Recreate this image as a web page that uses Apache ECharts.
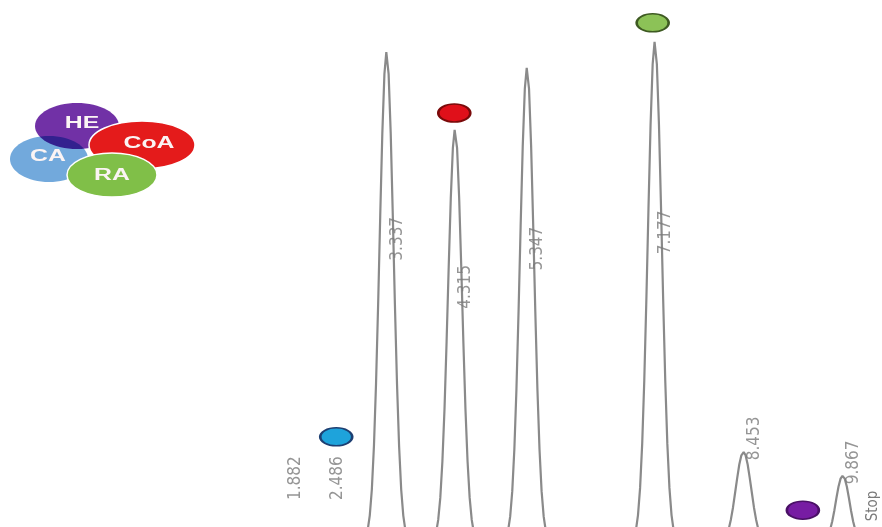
<!DOCTYPE html>
<html>
<head>
<meta charset="utf-8">
<script src="https://cdn.jsdelivr.net/npm/echarts@6/dist/echarts.min.js"></script>
<style>
  html, body { margin: 0; padding: 0; background: #ffffff; }
  #chart { width: 882px; height: 527px; }
</style>
</head>
<body>
<div id="chart"></div>
<script>
// Retention times (min) of the integrated peaks and their apex heights (mAU)
const peakTimes   = [1.882, 2.486, 3.337, 4.315, 5.347, 7.177, 8.453, 9.867];
const peakHeights = [10, 14, 904, 761, 875, 923, 168, 124];

// Detector trace: time (min) and signal (mAU)
const traceTime = [
  0.00, 1.70, 1.80, 1.882, 1.96, 2.06, 2.30, 2.40, 2.486, 2.57, 2.67, 2.90,
  3.04, 3.07, 3.10, 3.13, 3.16, 3.19, 3.22, 3.25, 3.28, 3.31, 3.337, 3.37, 3.40, 3.43, 3.46, 3.49, 3.52, 3.55, 3.58, 3.61, 3.64,
  3.83,
  4.02, 4.05, 4.08, 4.11, 4.14, 4.17, 4.20, 4.23, 4.26, 4.29, 4.315, 4.35, 4.38, 4.41, 4.44, 4.47, 4.50, 4.53, 4.56, 4.59, 4.62,
  4.84,
  5.05, 5.08, 5.11, 5.14, 5.17, 5.20, 5.23, 5.26, 5.29, 5.32, 5.347, 5.38, 5.41, 5.44, 5.47, 5.50, 5.53, 5.56, 5.59, 5.62, 5.65,
  6.20,
  6.88, 6.91, 6.94, 6.97, 7.00, 7.03, 7.06, 7.09, 7.12, 7.15, 7.177, 7.21, 7.24, 7.27, 7.30, 7.33, 7.36, 7.39, 7.42, 7.45, 7.48,
  7.80,
  8.12, 8.15, 8.18, 8.21, 8.24, 8.27, 8.30, 8.33, 8.36, 8.39, 8.42, 8.453, 8.48, 8.51, 8.54, 8.57, 8.60, 8.63, 8.66, 8.69, 8.72, 8.75, 8.78,
  9.20,
  9.57, 9.60, 9.63, 9.66, 9.69, 9.72, 9.75, 9.78, 9.81, 9.84, 9.867, 9.90, 9.93, 9.96, 9.99, 10.02, 10.05, 10.08, 10.11, 10.14, 10.17,
  10.40
];
const traceSignal = [
  0, 0, 4, 10, 4, 0, 0, 5, 14, 5, 0, 0,
  10, 24, 51, 99, 179, 294, 440, 603, 755, 864, 904, 864, 755, 603, 440, 294, 179, 99, 51, 24, 10,
  1,
  8, 20, 43, 84, 151, 247, 371, 508, 635, 728, 761, 728, 635, 508, 371, 247, 151, 84, 43, 20, 8,
  1,
  10, 23, 49, 96, 173, 284, 426, 584, 731, 837, 875, 837, 731, 584, 426, 284, 173, 96, 49, 23, 10,
  0,
  10, 24, 52, 102, 183, 300, 450, 616, 771, 882, 923, 882, 771, 616, 450, 300, 183, 102, 52, 24, 10,
  0,
  2, 4, 8, 16, 27, 44, 66, 93, 120, 145, 162, 168, 162, 145, 120, 93, 66, 44, 27, 16, 8, 4, 2,
  0,
  1, 3, 7, 14, 25, 40, 60, 83, 104, 119, 124, 119, 104, 83, 60, 40, 25, 14, 7, 3, 1,
  0
];

// Compound markers placed over the chromatogram
const markerNames  = ['CA', 'CoA', 'RA', 'HE'];
const markerTimes  = [2.62, 4.31, 7.15, 9.30];
const markerLevels = [196, 792, 958, 61];

// Legend bubbles in the top-left corner
const bubbleNames = ['CA', 'HE', 'CoA', 'RA'];

const compoundStyle = {
  CA:  { fill: '#1ea3db', edge: '#1d3f72', bubble: '#72a9dc' },
  CoA: { fill: '#e0101a', edge: '#7a0a0a', bubble: '#e41b1b' },
  RA:  { fill: '#8cc257', edge: '#3e5a22', bubble: '#80bf48' },
  HE:  { fill: '#771ca3', edge: '#4a1066', bubble: '#7131a6' }
};

const bubbleGeom = {
  CA:  { cx: 49,  cy: 159, rx: 39, ry: 23, tx: 48,  ty: 157 },
  HE:  { cx: 77,  cy: 126, rx: 42, ry: 23, tx: 82,  ty: 124 },
  CoA: { cx: 142, cy: 145, rx: 53, ry: 24, tx: 149, ty: 144 },
  RA:  { cx: 112, cy: 175, rx: 45, ry: 22, tx: 112, ty: 176 }
};

const chart = echarts.init(document.getElementById('chart'), null, { renderer: 'canvas' });

const traceData = traceTime.map((t, i) => [t, traceSignal[i]]);

// Retention-time tags: part-way up tall peaks, just above small ones
const tagData = peakTimes.map((t, i) => {
  const h = peakHeights[i];
  const level = h >= 300 ? h * 0.62 : Math.max(h + 25, 120);
  return { value: [t, level], name: t.toFixed(3) };
});

const markerData = markerNames.map((n, i) => ({
  value: [markerTimes[i], markerLevels[i]],
  name: n,
  itemStyle: {
    color: compoundStyle[n].fill,
    borderColor: compoundStyle[n].edge,
    borderWidth: 2,
    opacity: 1
  }
}));

const bubbleGraphics = [];
bubbleNames.forEach((n) => {
  const g = bubbleGeom[n];
  bubbleGraphics.push({
    type: 'ellipse',
    shape: { cx: g.cx, cy: g.cy, rx: g.rx, ry: g.ry },
    style: {
      fill: compoundStyle[n].bubble,
      stroke: n === 'CA' ? null : '#ffffff',
      lineWidth: n === 'CA' ? 0 : 1.5,
      blend: n === 'HE' ? 'multiply' : null
    },
    z: 10
  });
});
bubbleNames.forEach((n) => {
  const g = bubbleGeom[n];
  bubbleGraphics.push({
    type: 'text',
    x: g.tx, y: g.ty,
    scaleX: 1.55,
    style: {
      text: n,
      fill: '#fbf4f4',
      font: 'bold 16px "Liberation Sans", Arial, sans-serif',
      align: 'center',
      verticalAlign: 'middle'
    },
    z: 12
  });
});
bubbleGraphics.push({
  type: 'text',
  x: 873, y: 506,
  rotation: Math.PI / 2,
  style: {
    text: 'Stop',
    fill: '#7a7a7a',
    font: '15px "DejaVu Sans Condensed", "DejaVu Sans", sans-serif',
    align: 'center',
    verticalAlign: 'middle'
  },
  z: 12
});

chart.setOption({
  animation: false,
  backgroundColor: '#ffffff',
  grid: { left: 153.2, right: 2.3, top: 0, bottom: 0 },
  xAxis: { type: 'value', min: 0, max: 10.4, show: false },
  yAxis: { type: 'value', min: 30, max: 1000, show: false },
  graphic: bubbleGraphics,
  series: [
    {
      name: 'trace',
      type: 'line',
      data: traceData,
      showSymbol: false,
      clip: true,
      lineStyle: { color: '#8a8a8a', width: 2.2 },
      z: 2
    },
    {
      name: 'tags',
      type: 'scatter',
      data: tagData,
      symbolSize: 0,
      label: {
        show: true,
        position: 'inside',
        offset: [0, 11],
        rotate: 90,
        formatter: (p) => p.name,
        color: '#7a7a7a',
        fontSize: 17,
        fontFamily: '"DejaVu Sans Condensed", "DejaVu Sans", sans-serif'
      },
      z: 3
    },
    {
      name: 'markers',
      type: 'scatter',
      data: markerData,
      symbol: 'circle',
      symbolSize: [32, 18],
      z: 5
    }
  ]
});
</script>
</body>
</html>
